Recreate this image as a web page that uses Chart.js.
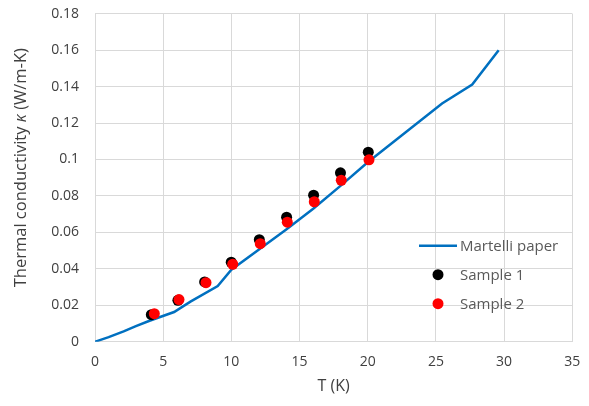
<!DOCTYPE html>
<html>
<head>
<meta charset="utf-8">
<script src="https://cdn.jsdelivr.net/npm/chart.js@4.4.1/dist/chart.umd.min.js"></script>
<style>
  html, body { margin: 0; padding: 0; background: #fff; }
  #wrap { width: 589px; height: 406px; position: relative; }
</style>
</head>
<body>
<div id="wrap"><canvas id="c" width="589" height="406"></canvas></div>
<script>
// ---- Data ----
const martelliT = [0, 1, 2.1, 3, 4, 5.8, 7, 9, 10, 12, 14, 16, 18, 20, 25.45, 27.66, 29.6];
const martelliK = [0, 0.0025, 0.0057, 0.0085, 0.0115, 0.0163, 0.022, 0.0305, 0.0395, 0.0505, 0.0615, 0.073, 0.0855, 0.0985, 0.1307, 0.1411, 0.160];

const sample1T = [4.13, 6.08, 8.04, 9.99, 12.05, 14.05, 16.03, 18.0, 20.04];
const sample1K = [0.0148, 0.0227, 0.0328, 0.0436, 0.056, 0.0683, 0.0804, 0.0927, 0.104];

const sample2T = [4.35, 6.16, 8.14, 10.1, 12.12, 14.1, 16.08, 18.06, 20.09];
const sample2K = [0.0154, 0.0231, 0.0324, 0.0425, 0.0538, 0.0656, 0.0768, 0.0886, 0.0998];

const xTicks = [0, 5, 10, 15, 20, 25, 30, 35];
const yTicks = [0, 0.02, 0.04, 0.06, 0.08, 0.1, 0.12, 0.14, 0.16, 0.18];

const seriesNames = ['Martelli paper', 'Sample 1', 'Sample 2'];
const xTitle = 'T (K)';
// y title in parts so the kappa can be italic
const yTitleParts = ['Thermal conductivity ', '\u03BA', ' (W/m-K)'];

const toXY = (xs, ys) => xs.map((x, i) => ({ x: x, y: ys[i] }));

const FONT = '"Open Sans", "Liberation Sans", sans-serif';
const BLUE = '#0070C0';
const GRID = '#d9d9d9';
const TEXT = '#404040';

const legendPlugin = {
  id: 'insideLegend',
  afterDraw(chart) {
    const ctx = chart.ctx;
    const ca = chart.chartArea;
    const x0 = ca.left + 343;   // legend sample column
    const y0 = ca.top + 232;
    const dy = 29;
    ctx.save();
    ctx.font = '15px ' + FONT;
    ctx.textBaseline = 'middle';
    ctx.textAlign = 'left';
    const dsets = chart.data.datasets;
    // line entry
    ctx.strokeStyle = dsets[0].borderColor;
    ctx.lineWidth = dsets[0].borderWidth;
    ctx.beginPath();
    ctx.moveTo(x0 - 19, y0);
    ctx.lineTo(x0 + 19, y0);
    ctx.stroke();
    ctx.fillStyle = '#595959';
    ctx.fillText(dsets[0].label, x0 + 22, y0 + 1);
    // point entries
    for (let i = 1; i < 3; i++) {
      const ds = dsets.find(d => d.label === seriesNames[i]);
      const y = y0 + dy * i;
      ctx.fillStyle = ds.backgroundColor;
      ctx.beginPath();
      ctx.arc(x0, y, ds.pointRadius, 0, Math.PI * 2);
      ctx.fill();
      ctx.fillStyle = '#595959';
      ctx.fillText(ds.label, x0 + 22, y + 1);
    }
    ctx.restore();
  }
};

const yTitlePlugin = {
  id: 'yTitle',
  afterDraw(chart) {
    const ctx = chart.ctx;
    const ca = chart.chartArea;
    const size = 16.5;
    const fonts = [size + 'px ' + FONT, 'italic ' + size + 'px ' + FONT, size + 'px ' + FONT];
    ctx.save();
    let total = 0;
    const widths = yTitleParts.map((t, i) => { ctx.font = fonts[i]; const w = ctx.measureText(t).width; total += w; return w; });
    const cx = 21;
    const cy = (ca.top + ca.bottom) / 2 - 10;
    ctx.translate(cx, cy);
    ctx.rotate(-Math.PI / 2);
    ctx.fillStyle = TEXT;
    ctx.textBaseline = 'middle';
    ctx.textAlign = 'left';
    let x = -total / 2;
    yTitleParts.forEach((t, i) => { ctx.font = fonts[i]; ctx.fillText(t, x, 0); x += widths[i]; });
    ctx.restore();
  }
};

new Chart(document.getElementById('c'), {
  type: 'scatter',
  data: {
    datasets: [
      {
        label: seriesNames[0],
        data: toXY(martelliT, martelliK),
        showLine: true,
        borderColor: BLUE,
        backgroundColor: BLUE,
        borderWidth: 2.5,
        pointRadius: 0,
        tension: 0,
        order: 3
      },
      {
        label: seriesNames[1],
        data: toXY(sample1T, sample1K),
        showLine: false,
        backgroundColor: '#000000',
        borderColor: '#000000',
        borderWidth: 0,
        pointRadius: 5.5,
        order: 2
      },
      {
        label: seriesNames[2],
        data: toXY(sample2T, sample2K),
        showLine: false,
        backgroundColor: '#ff0000',
        borderColor: '#ff0000',
        borderWidth: 0,
        pointRadius: 5.5,
        order: 1
      }
    ]
  },
  options: {
    responsive: false,
    animation: false,
    devicePixelRatio: 1,
    layout: { padding: { left: 0, right: 16.7, top: 13.7, bottom: 0 } },
    plugins: {
      legend: { display: false },
      tooltip: { enabled: false }
    },
    scales: {
      x: {
        type: 'linear',
        min: 0, max: 35,
        afterBuildTicks: s => { s.ticks = xTicks.map(v => ({ value: v })); },
        afterFit: s => { s.height = 64.3; s.paddingLeft = 0; s.paddingRight = 0; },
        ticks: { font: { family: FONT, size: 14 }, color: TEXT, padding: 12, maxRotation: 0 },
        grid: { color: GRID, lineWidth: 1, drawTicks: false },
        border: { color: GRID, width: 1 },
        title: { display: true, text: xTitle, font: { family: FONT, size: 16 }, color: TEXT, padding: { top: 0, bottom: 10 } }
      },
      y: {
        type: 'linear',
        min: 0, max: 0.18,
        afterBuildTicks: s => { s.ticks = yTicks.map(v => ({ value: v })); },
        afterFit: s => { s.width = 95; s.paddingTop = 0; s.paddingBottom = 0; },
        ticks: { font: { family: FONT, size: 14 }, color: TEXT, padding: 16, callback: v => String(v) },
        grid: { color: GRID, lineWidth: 1, drawTicks: false },
        border: { color: GRID, width: 1 },
        title: { display: false }
      }
    }
  },
  plugins: [legendPlugin, yTitlePlugin]
});
</script>
</body>
</html>
